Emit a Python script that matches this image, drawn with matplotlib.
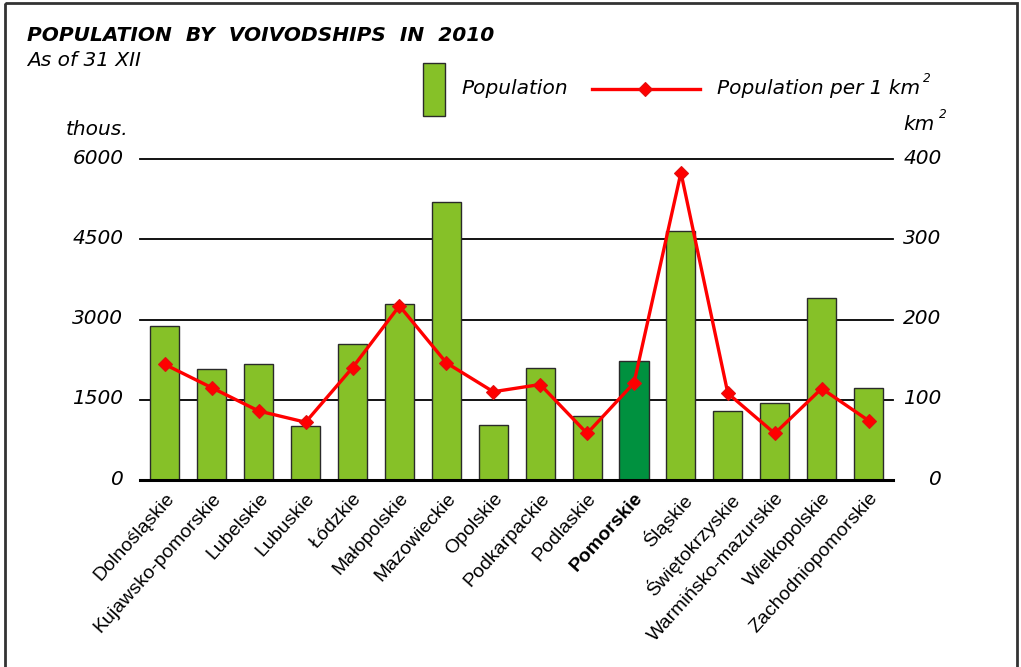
import matplotlib
matplotlib.use("Agg")
import matplotlib.pyplot as plt
from matplotlib.patches import Rectangle
from matplotlib.lines import Line2D
from matplotlib.transforms import ScaledTranslation

plt.rcParams['font.family'] = ['Liberation Sans', 'DejaVu Sans']
WIDE = ['DejaVu Sans']   # broader face for the italic headings and scales

# ─── DATA ────────────────────────────────────────────────────────────────────
voivodships = [
    "Dolnośląskie", "Kujawsko-pomorskie", "Lubelskie", "Lubuskie", "Łódzkie",
    "Małopolskie", "Mazowieckie", "Opolskie", "Podkarpackie", "Podlaskie",
    "Pomorskie", "Śląskie", "Świętokrzyskie", "Warmińsko-mazurskie",
    "Wielkopolskie", "Zachodniopomorskie",
]
population = [2877, 2069, 2175, 1011, 2542, 3298, 5190, 1029,
              2100, 1200, 2230, 4660, 1285, 1430, 3410, 1715]   # thous.
density = [144, 115, 86, 72, 140, 217, 146, 110,
           119, 58, 121, 383, 108, 58, 114, 74]                  # per 1 km2
highlight = "Pomorskie"

left_ticks = [0, 1500, 3000, 4500, 6000]
right_ticks = [0, 100, 200, 300, 400]

W, H = 1021, 667
GREEN = "#86c128"
DARK_GREEN = "#00913f"
RED = "#ff0000"
EDGE = "#2a2a2a"

fig = plt.figure(figsize=(W / 100, H / 100), dpi=100)
ax = fig.add_axes([140 / W, 1 - 480 / H, 753 / W, 321 / H])
lift = ScaledTranslation(0, 2 / 72, fig.dpi_scale_trans)

x = list(range(len(voivodships)))
colors = [DARK_GREEN if v == highlight else GREEN for v in voivodships]
ax.bar(x, population, width=0.62, color=colors, edgecolor=EDGE, linewidth=1, zorder=2)

ax.set_xlim(-0.53, len(x) - 0.48)
ax.set_ylim(0, 6000)
ax.set_yticks(left_ticks)
ax.set_yticklabels([str(t) for t in left_ticks], fontsize=14.5, style='italic',
                   family=WIDE)
ax.tick_params(axis='y', length=0, pad=12)
ax.grid(axis='y', color='black', linewidth=1.3, zorder=0)
ax.set_axisbelow(True)
for g in ax.get_ygridlines():
    g.set_clip_on(False)
ax.axhline(0, color='black', linewidth=2.2, zorder=3, clip_on=False)
for s in ax.spines.values():
    s.set_visible(False)

ax.set_xticks(x)
ax.set_xticklabels(voivodships, rotation=48, ha='right', va='top',
                   rotation_mode='anchor', fontsize=14)
ax.tick_params(axis='x', length=0, pad=7)
ax.get_xticklabels()[voivodships.index(highlight)].set_fontweight('bold')

# density on the secondary axis
ax2 = ax.twinx()
ax2.plot(x, density, color=RED, linewidth=2.4, marker='D', markersize=7,
         markerfacecolor=RED, markeredgecolor='#e01010', markeredgewidth=0.8, zorder=4)
ax2.set_ylim(0, 400)
ax2.set_yticks(right_ticks)
ax2.set_yticklabels([str(t) for t in right_ticks], fontsize=14.5, style='italic',
                    family=WIDE)
ax2.tick_params(axis='y', length=0, pad=35)
for t in ax2.get_yticklabels():
    t.set_horizontalalignment('right')
for s in ax2.spines.values():
    s.set_visible(False)

# scale numbers sit slightly above their gridlines
for t in ax.get_yticklabels() + ax2.get_yticklabels():
    t.set_transform(t.get_transform() + lift)

# headings, units, legend and frame in pixel coordinates
ov = fig.add_axes([0, 0, 1, 1], zorder=5)
ov.set_xlim(0, W)
ov.set_ylim(H, 0)
ov.axis('off')
renderer = fig.canvas.get_renderer()


def with_square(xp, yp, base, size, gap=3):
    """Italic text followed by a small raised '2'."""
    t = ov.text(xp, yp, base, fontsize=size, style='italic', family=WIDE, va='baseline')
    bb = t.get_window_extent(renderer=renderer)
    x_end = ov.transData.inverted().transform((bb.x1, 0))[0]
    ov.text(x_end + gap, yp - 12, "2", fontsize=size * 0.6, style='italic',
            family=WIDE, va='baseline')


ov.text(27, 41, "POPULATION  BY  VOIVODSHIPS  IN  2010", fontsize=14.5,
        fontweight='bold', style='italic', family=WIDE, va='baseline')
ov.text(27, 66, "As of 31 XII", fontsize=14.5, style='italic', family=WIDE,
        va='baseline')
ov.text(66, 135, "thous.", fontsize=14.5, style='italic', family=WIDE, va='baseline')
with_square(903, 130, "km", 14.5, gap=5)

ov.add_patch(Rectangle((423, 63), 22, 53, facecolor=GREEN, edgecolor=EDGE, linewidth=1))
ov.text(461, 94, "Population", fontsize=14.5, style='italic', family=WIDE,
        va='baseline')
ov.add_line(Line2D([592, 700], [89, 89], color=RED, linewidth=2.4))
ov.add_line(Line2D([645], [89], color=RED, marker='D', markersize=7,
                   markeredgecolor='#e01010', markeredgewidth=0.8))
with_square(717, 94, "Population per 1 km", 14.5)

ov.add_patch(Rectangle((5, 3), 1012, 700, fill=False, edgecolor='#333333',
                       linewidth=2, clip_on=False))

fig.savefig("out.png", dpi=100)
